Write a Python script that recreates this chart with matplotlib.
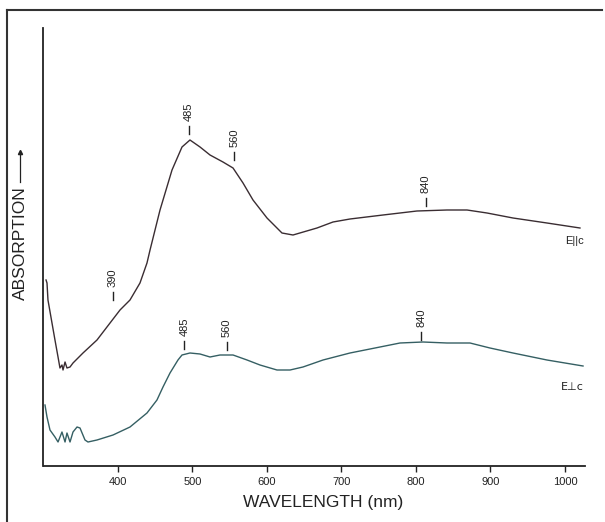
import matplotlib
matplotlib.use("Agg")
import matplotlib.pyplot as plt
from matplotlib.lines import Line2D

plt.rcParams['font.family'] = ['Liberation Sans', 'DejaVu Sans']

# E || c spectrum (wavelength nm, absorption arbitrary units)
wl_par = [303.4, 304.7, 306.0, 311.4, 315.4, 319.5, 322.1, 324.8, 326.2, 328.9,
          331.5, 335.6, 339.6, 353.0, 371.8, 389.3, 402.7, 416.1, 429.5, 438.9,
          443.0, 456.4, 472.5, 485.9, 496.6, 510.1, 523.5, 540.9, 554.4, 567.8,
          581.2, 600.0, 620.1, 634.9, 667.1, 688.6, 711.4, 755.7, 801.3, 841.6,
          868.5, 895.3, 930.2, 975.8, 1020.1]
abs_par = [186, 183, 166, 143, 126, 109, 98, 101, 96, 104,
           98, 99, 103, 113, 126, 143, 156, 166, 183, 203,
           216, 256, 296, 319, 326, 319, 311, 304, 298, 283,
           266, 248, 233, 231, 238, 244, 247, 251, 255, 256,
           256, 253, 248, 243, 238]

# E _|_ c spectrum
wl_perp = [302.0, 304.7, 308.7, 315.4, 319.5, 324.8, 328.9, 331.5, 335.6, 339.6,
           345.0, 349.0, 355.7, 359.7, 371.8, 393.3, 416.1, 438.9, 452.3, 460.4,
           469.8, 480.5, 485.9, 496.6, 510.1, 523.5, 536.9, 554.4, 573.2, 590.6,
           613.4, 630.9, 648.3, 675.2, 711.4, 751.7, 778.5, 809.4, 841.6, 872.5,
           899.3, 930.2, 975.8, 1024.2]
abs_perp = [61, 49, 36, 29, 24, 34, 24, 33, 24, 34,
            39, 38, 26, 24, 26, 31, 39, 53, 66, 79,
            93, 106, 111, 113, 112, 109, 111, 111, 106, 101,
            96, 96, 99, 106, 113, 119, 123, 124, 123, 123,
            118, 113, 106, 100]

# band annotations
par_labels = ['390', '485', '560', '840']
par_label_wl = [393, 495, 556, 813]
par_label_y = [166, 332, 306, 260]

perp_labels = ['485', '560', '840']
perp_label_wl = [489, 546, 807]
perp_label_y = [117, 116, 126]

xticks = [400, 500, 600, 700, 800, 900, 1000]

W, H = 605, 522
fig = plt.figure(figsize=(W / 100, H / 100), dpi=100)
ax = fig.add_axes([43.5 / W, (H - 466) / H, 541.5 / W, 438 / H])

ax.plot(wl_par, abs_par, color='#3a2d32', lw=1.0)
ax.plot(wl_perp, abs_perp, color='#355f63', lw=1.0)

tick_len = 8
for lab, x, y in zip(par_labels + perp_labels,
                     par_label_wl + perp_label_wl,
                     par_label_y + perp_label_y):
    ax.plot([x, x], [y, y + tick_len], color='#222222', lw=1.0)
    ax.text(x, y + tick_len + 5, lab, rotation=90, ha='center', va='bottom',
            fontsize=8, color='#222222')

ax.text(1025, 225, 'E||c', ha='right', va='center', fontsize=8, color='#222222')
ax.text(1025, 79, 'E\u22a5c', ha='right', va='center', fontsize=8, color='#222222',
        family=['DejaVu Sans'])

ax.set_xlim(300, 300 + 541.5 / 0.745)
ax.set_ylim(0, 438)
ax.set_xticks(xticks)
ax.set_xticklabels([str(t) for t in xticks], fontsize=8)
ax.set_yticks([])
ax.tick_params(axis='x', direction='out', length=4, width=1.0, pad=4, colors='#222222')
for s in ['top', 'right']:
    ax.spines[s].set_visible(False)
for s in ['left', 'bottom']:
    ax.spines[s].set_linewidth(1.3)
    ax.spines[s].set_color('#222222')

fig.text(323 / W, 1 - 502 / H, 'WAVELENGTH (nm)', ha='center', va='center',
         fontsize=12.5, color='#222222')
fig.text(20 / W, 1 - 243 / H, 'ABSORPTION', rotation=90, ha='center', va='center',
         fontsize=12.5, color='#222222')
fig.add_artist(Line2D([20 / W, 20 / W], [1 - 182 / H, 1 - 152 / H],
                      transform=fig.transFigure, color='#222222', lw=0.9))
fig.add_artist(Line2D([20 / W], [1 - 152 / H], marker='^', markersize=3,
                      transform=fig.transFigure, color='#222222'))

# outer frame
fig.add_artist(Line2D([7 / W, 7 / W], [0, 1 - 10 / H], transform=fig.transFigure,
                      color='#333333', lw=1.5))
fig.add_artist(Line2D([7 / W, 602 / W], [1 - 10 / H, 1 - 10 / H],
                      transform=fig.transFigure, color='#333333', lw=1.5))

fig.savefig('out.png', dpi=100)
